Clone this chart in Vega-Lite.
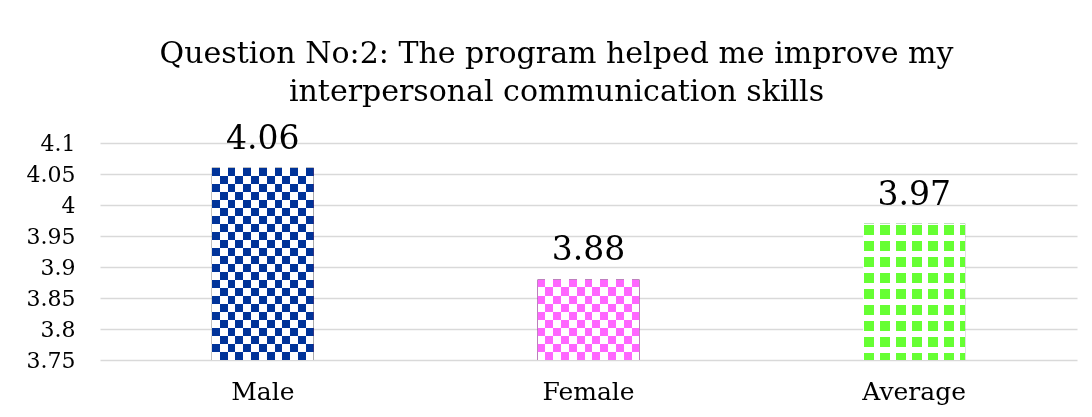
{
  "$schema": "https://vega.github.io/schema/vega-lite/v6.json",
  "autosize": {"type": "none"},
  "padding": {"left": 100, "top": 143, "right": 15, "bottom": 57},
  "width": 977,
  "height": 217,
  "background": "white",
  "config": {
    "view": {"stroke": null},
    "font": "DejaVu Serif"
  },
  "title": {
    "text": ["Question No:2: The program helped me improve my", "interpersonal communication skills"],
    "font": "DejaVu Serif",
    "fontSize": 30,
    "fontWeight": "normal",
    "color": "#000000",
    "anchor": "middle",
    "frame": "group",
    "dx": -32,
    "offset": 16,
    "lineHeight": 38
  },
  "data": {
    "values": [
      {"group": "Male", "score": 4.06},
      {"group": "Female", "score": 3.88},
      {"group": "Average", "score": 3.97}
    ]
  },
  "encoding": {
    "x": {
      "field": "group",
      "type": "nominal",
      "sort": ["Male", "Female", "Average"],
      "scale": {"paddingInner": 0.687, "paddingOuter": 0.3435},
      "axis": {
        "title": null,
        "labelAngle": 0,
        "domain": false,
        "ticks": false,
        "labelFont": "DejaVu Serif",
        "labelFontSize": 25,
        "labelColor": "#000000",
        "labelPadding": 19
      }
    },
    "y": {
      "field": "score",
      "type": "quantitative",
      "scale": {"domain": [3.75, 4.1], "nice": false, "zero": false},
      "axis": {
        "title": null,
        "values": [3.75, 3.8, 3.85, 3.9, 3.95, 4, 4.05, 4.1],
        "format": "~g",
        "domain": false,
        "ticks": false,
        "grid": true,
        "gridColor": "#d9d9d9",
        "gridWidth": 1.5,
        "labelFont": "DejaVu Serif",
        "labelFontSize": 22,
        "labelColor": "#000000",
        "labelPadding": 25
      }
    }
  },
  "layer": [
    {
      "transform": [{"filter": "datum.group !== 'Average'"}],
      "mark": {
        "type": "bar",
        "fill": {
          "gradient": "linear", "x1": 0, "y1": 0, "x2": 1, "y2": 0,
          "stops": [
            {"offset": 0, "color": "black"}, {"offset": 0.0769, "color": "black"},
            {"offset": 0.0769, "color": "white"}, {"offset": 0.1538, "color": "white"},
            {"offset": 0.1538, "color": "black"}, {"offset": 0.2308, "color": "black"},
            {"offset": 0.2308, "color": "white"}, {"offset": 0.3077, "color": "white"},
            {"offset": 0.3077, "color": "black"}, {"offset": 0.3846, "color": "black"},
            {"offset": 0.3846, "color": "white"}, {"offset": 0.4615, "color": "white"},
            {"offset": 0.4615, "color": "black"}, {"offset": 0.5385, "color": "black"},
            {"offset": 0.5385, "color": "white"}, {"offset": 0.6154, "color": "white"},
            {"offset": 0.6154, "color": "black"}, {"offset": 0.6923, "color": "black"},
            {"offset": 0.6923, "color": "white"}, {"offset": 0.7692, "color": "white"},
            {"offset": 0.7692, "color": "black"}, {"offset": 0.8462, "color": "black"},
            {"offset": 0.8462, "color": "white"}, {"offset": 0.9231, "color": "white"},
            {"offset": 0.9231, "color": "black"}, {"offset": 1, "color": "black"}
          ]
        }
      },
      "encoding": {"y2": {"datum": 3.75}}
    },
    {
      "transform": [{"filter": "datum.group === 'Average'"}],
      "mark": {
        "type": "bar",
        "fill": {
          "gradient": "linear", "x1": 0, "y1": 0, "x2": 1, "y2": 0,
          "stops": [
            {"offset": 0, "color": "white"}, {"offset": 0.0059, "color": "white"},
            {"offset": 0.0059, "color": "black"}, {"offset": 0.1039, "color": "black"},
            {"offset": 0.1039, "color": "white"}, {"offset": 0.1627, "color": "white"},
            {"offset": 0.1627, "color": "black"}, {"offset": 0.2608, "color": "black"},
            {"offset": 0.2608, "color": "white"}, {"offset": 0.3196, "color": "white"},
            {"offset": 0.3196, "color": "black"}, {"offset": 0.4176, "color": "black"},
            {"offset": 0.4176, "color": "white"}, {"offset": 0.4765, "color": "white"},
            {"offset": 0.4765, "color": "black"}, {"offset": 0.5745, "color": "black"},
            {"offset": 0.5745, "color": "white"}, {"offset": 0.6333, "color": "white"},
            {"offset": 0.6333, "color": "black"}, {"offset": 0.7314, "color": "black"},
            {"offset": 0.7314, "color": "white"}, {"offset": 0.7902, "color": "white"},
            {"offset": 0.7902, "color": "black"}, {"offset": 0.8882, "color": "black"},
            {"offset": 0.8882, "color": "white"}, {"offset": 0.9471, "color": "white"},
            {"offset": 0.9471, "color": "black"}, {"offset": 1, "color": "black"}
          ]
        }
      },
      "encoding": {"y2": {"datum": 3.75}}
    },
    {
      "transform": [{"filter": "datum.group === 'Male'"}],
      "mark": {
        "type": "bar",
        "blend": "difference",
        "fill": {
          "gradient": "linear", "x1": 0, "y1": 0, "x2": 0, "y2": 1,
          "stops": [
            {"offset": 0, "color": "black"}, {"offset": 0.0417, "color": "black"},
            {"offset": 0.0417, "color": "white"}, {"offset": 0.0833, "color": "white"},
            {"offset": 0.0833, "color": "black"}, {"offset": 0.125, "color": "black"},
            {"offset": 0.125, "color": "white"}, {"offset": 0.1667, "color": "white"},
            {"offset": 0.1667, "color": "black"}, {"offset": 0.2083, "color": "black"},
            {"offset": 0.2083, "color": "white"}, {"offset": 0.25, "color": "white"},
            {"offset": 0.25, "color": "black"}, {"offset": 0.2917, "color": "black"},
            {"offset": 0.2917, "color": "white"}, {"offset": 0.3333, "color": "white"},
            {"offset": 0.3333, "color": "black"}, {"offset": 0.375, "color": "black"},
            {"offset": 0.375, "color": "white"}, {"offset": 0.4167, "color": "white"},
            {"offset": 0.4167, "color": "black"}, {"offset": 0.4583, "color": "black"},
            {"offset": 0.4583, "color": "white"}, {"offset": 0.5, "color": "white"},
            {"offset": 0.5, "color": "black"}, {"offset": 0.5417, "color": "black"},
            {"offset": 0.5417, "color": "white"}, {"offset": 0.5833, "color": "white"},
            {"offset": 0.5833, "color": "black"}, {"offset": 0.625, "color": "black"},
            {"offset": 0.625, "color": "white"}, {"offset": 0.6667, "color": "white"},
            {"offset": 0.6667, "color": "black"}, {"offset": 0.7083, "color": "black"},
            {"offset": 0.7083, "color": "white"}, {"offset": 0.75, "color": "white"},
            {"offset": 0.75, "color": "black"}, {"offset": 0.7917, "color": "black"},
            {"offset": 0.7917, "color": "white"}, {"offset": 0.8333, "color": "white"},
            {"offset": 0.8333, "color": "black"}, {"offset": 0.875, "color": "black"},
            {"offset": 0.875, "color": "white"}, {"offset": 0.9167, "color": "white"},
            {"offset": 0.9167, "color": "black"}, {"offset": 0.9583, "color": "black"},
            {"offset": 0.9583, "color": "white"}, {"offset": 1, "color": "white"}
          ]
        }
      },
      "encoding": {"y2": {"datum": 3.75}}
    },
    {
      "transform": [{"filter": "datum.group === 'Female'"}],
      "mark": {
        "type": "bar",
        "blend": "difference",
        "fill": {
          "gradient": "linear", "x1": 0, "y1": 0, "x2": 0, "y2": 1,
          "stops": [
            {"offset": 0, "color": "black"}, {"offset": 0.1, "color": "black"},
            {"offset": 0.1, "color": "white"}, {"offset": 0.2, "color": "white"},
            {"offset": 0.2, "color": "black"}, {"offset": 0.3, "color": "black"},
            {"offset": 0.3, "color": "white"}, {"offset": 0.4, "color": "white"},
            {"offset": 0.4, "color": "black"}, {"offset": 0.5, "color": "black"},
            {"offset": 0.5, "color": "white"}, {"offset": 0.6, "color": "white"},
            {"offset": 0.6, "color": "black"}, {"offset": 0.7, "color": "black"},
            {"offset": 0.7, "color": "white"}, {"offset": 0.8, "color": "white"},
            {"offset": 0.8, "color": "black"}, {"offset": 0.9, "color": "black"},
            {"offset": 0.9, "color": "white"}, {"offset": 1, "color": "white"}
          ]
        }
      },
      "encoding": {"y2": {"datum": 3.75}}
    },
    {
      "transform": [{"filter": "datum.group === 'Average'"}],
      "mark": {
        "type": "bar",
        "blend": "lighten",
        "fill": {
          "gradient": "linear", "x1": 0, "y1": 0, "x2": 0, "y2": 1,
          "stops": [
            {"offset": 0, "color": "white"}, {"offset": 0.0125, "color": "white"},
            {"offset": 0.0125, "color": "black"}, {"offset": 0.0858, "color": "black"},
            {"offset": 0.0858, "color": "white"}, {"offset": 0.1298, "color": "white"},
            {"offset": 0.1298, "color": "black"}, {"offset": 0.2031, "color": "black"},
            {"offset": 0.2031, "color": "white"}, {"offset": 0.2471, "color": "white"},
            {"offset": 0.2471, "color": "black"}, {"offset": 0.3204, "color": "black"},
            {"offset": 0.3204, "color": "white"}, {"offset": 0.3644, "color": "white"},
            {"offset": 0.3644, "color": "black"}, {"offset": 0.4377, "color": "black"},
            {"offset": 0.4377, "color": "white"}, {"offset": 0.4817, "color": "white"},
            {"offset": 0.4817, "color": "black"}, {"offset": 0.555, "color": "black"},
            {"offset": 0.555, "color": "white"}, {"offset": 0.599, "color": "white"},
            {"offset": 0.599, "color": "black"}, {"offset": 0.6723, "color": "black"},
            {"offset": 0.6723, "color": "white"}, {"offset": 0.7163, "color": "white"},
            {"offset": 0.7163, "color": "black"}, {"offset": 0.7896, "color": "black"},
            {"offset": 0.7896, "color": "white"}, {"offset": 0.8336, "color": "white"},
            {"offset": 0.8336, "color": "black"}, {"offset": 0.9069, "color": "black"},
            {"offset": 0.9069, "color": "white"}, {"offset": 0.9509, "color": "white"},
            {"offset": 0.9509, "color": "black"}, {"offset": 1, "color": "black"}
          ]
        }
      },
      "encoding": {"y2": {"datum": 3.75}}
    },
    {
      "mark": {"type": "bar", "blend": "lighten"},
      "encoding": {
        "y2": {"datum": 3.75},
        "color": {
          "field": "group",
          "type": "nominal",
          "scale": {"domain": ["Male", "Female", "Average"], "range": ["#003399", "#ff66ff", "#66ff33"]},
          "legend": null
        }
      }
    },
    {
      "mark": {"type": "text", "font": "DejaVu Serif", "fontSize": 33, "color": "#000000", "baseline": "alphabetic", "dy": -19},
      "encoding": {
        "text": {"field": "score", "type": "quantitative", "format": ".2f"}
      }
    }
  ]
}
